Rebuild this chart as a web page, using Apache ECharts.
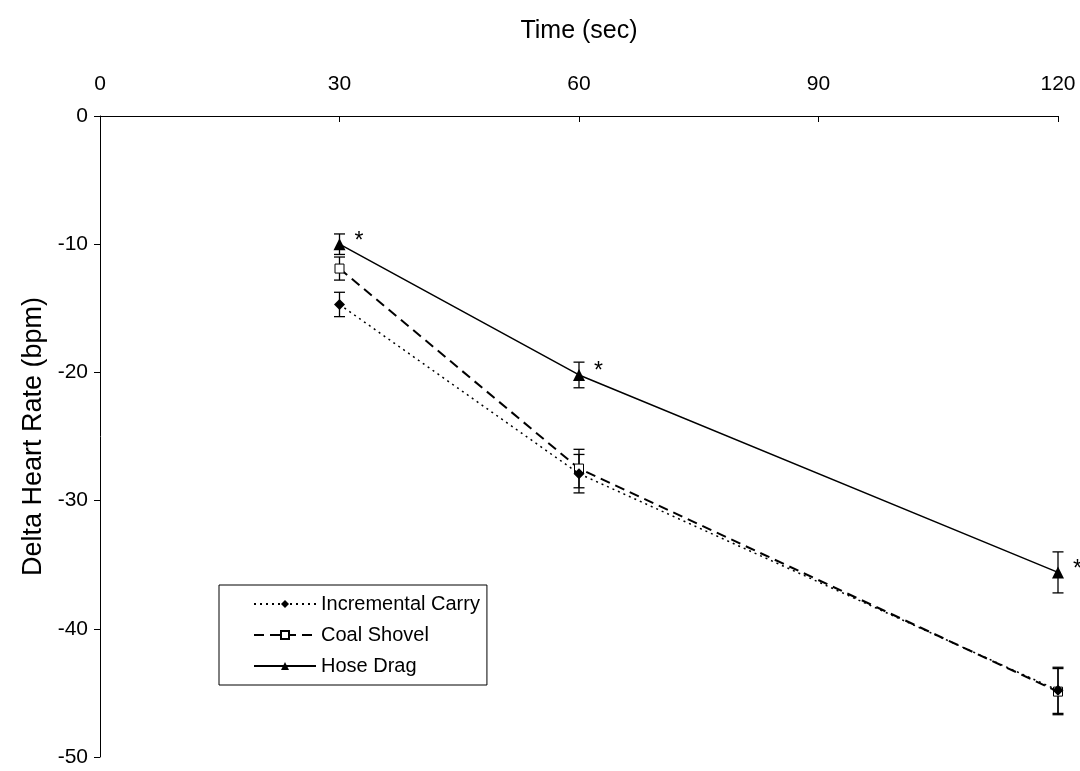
<!DOCTYPE html>
<html>
<head>
<meta charset="utf-8">
<script src="https://cdn.jsdelivr.net/npm/echarts@6/dist/echarts.min.js"></script>
<style>html,body{margin:0;padding:0;background:#fff}#c{width:1080px;height:771px}</style>
</head>
<body>
<div id="c"></div>
<script>
const categories = ['0', '30', '60', '90', '120'];
const incrementalCarry = [null, -14.7, -27.9, null, -44.8];
const incrementalCarryErr = [null, 0.95, 1.5, null, 1.8];
const coalShovel = [null, -11.9, -27.5, null, -44.9];
const coalShovelErr = [null, 0.9, 1.5, null, 1.8];
const hoseDrag = [null, -10.0, -20.2, null, -35.6];
const hoseDragErr = [null, 0.8, 1.0, null, 1.6];
const yTicks = [0, -10, -20, -30, -40, -50];

const FONT = 'Liberation Sans';

function errData(vals, errs) {
  const out = [];
  vals.forEach((v, i) => { if (v !== null) out.push([i, v - errs[i], v + errs[i]]); });
  return out;
}
function errSeries(vals, errs) {
  return {
    type: 'custom',
    data: errData(vals, errs),
    silent: true,
    z: 1,
    renderItem: function (params, api) {
      const lo = api.coord([api.value(0), api.value(1)]);
      const hi = api.coord([api.value(0), api.value(2)]);
      const w = 5.5;
      const st = { stroke: '#000', lineWidth: 1.3 };
      return {
        type: 'group',
        children: [
          { type: 'line', shape: { x1: lo[0], y1: lo[1], x2: hi[0], y2: hi[1] }, style: st },
          { type: 'line', shape: { x1: lo[0] - w, y1: lo[1], x2: lo[0] + w, y2: lo[1] }, style: st },
          { type: 'line', shape: { x1: hi[0] - w, y1: hi[1], x2: hi[0] + w, y2: hi[1] }, style: st }
        ]
      };
    }
  };
}

const chart = echarts.init(document.getElementById('c'), null, { renderer: 'canvas' });
chart.setOption({
  animation: false,
  backgroundColor: '#fff',
  textStyle: { fontFamily: FONT },
  grid: { left: 100, right: 22, top: 116, bottom: 14, containLabel: false },
  legend: {
    left: 219, top: 585,
    orient: 'vertical',
    itemWidth: 62, itemHeight: 10,
    itemGap: 11,
    padding: [9, 7, 9, 34],
    borderColor: '#000', borderWidth: 1,
    textStyle: { fontFamily: FONT, fontSize: 20, color: '#000', padding: [0, 0, 0, 0] },
    data: ['Incremental Carry', 'Coal Shovel', 'Hose Drag']
  },
  xAxis: {
    type: 'category',
    position: 'top',
    data: categories,
    boundaryGap: false,
    name: 'Time (sec)',
    nameLocation: 'middle',
    nameGap: 72,
    nameTextStyle: { fontFamily: FONT, fontSize: 25, color: '#000' },
    axisLine: { lineStyle: { color: '#000', width: 1 } },
    axisTick: { inside: true, length: 6, lineStyle: { color: '#000' }, alignWithLabel: true },
    axisLabel: { fontFamily: FONT, fontSize: 21, color: '#000', margin: 21 },
    splitLine: { show: false }
  },
  yAxis: {
    type: 'value',
    min: -50, max: 0, interval: 10,
    name: 'Delta Heart Rate (bpm)',
    nameLocation: 'middle',
    nameGap: 50,
    nameTextStyle: { fontFamily: FONT, fontSize: 27, color: '#000' },
    axisLine: { show: true, lineStyle: { color: '#000', width: 1 } },
    axisTick: { show: true, length: 6, lineStyle: { color: '#000' } },
    axisLabel: { fontFamily: FONT, fontSize: 21, color: '#000', margin: 12,
      customValues: yTicks },
    splitLine: { show: false }
  },
  series: [
    errSeries(incrementalCarry, incrementalCarryErr),
    errSeries(coalShovel, coalShovelErr),
    errSeries(hoseDrag, hoseDragErr),
    {
      name: 'Coal Shovel', type: 'line', data: coalShovel, connectNulls: true, z: 3,
      symbol: 'rect', symbolSize: 9,
      lineStyle: { color: '#000', width: 2, type: [10, 6] },
      itemStyle: { color: '#fff', borderColor: '#000', borderWidth: 1 }
    },
    {
      name: 'Incremental Carry', type: 'line', data: incrementalCarry, connectNulls: true, z: 4,
      symbol: 'diamond', symbolSize: 11,
      lineStyle: { color: '#000', width: 1.5, type: [2, 4] },
      itemStyle: { color: '#000', borderColor: '#000', borderWidth: 0 }
    },
    {
      name: 'Hose Drag', type: 'line', data: hoseDrag, connectNulls: true, z: 4,
      symbol: 'triangle', symbolSize: 12,
      lineStyle: { color: '#000', width: 1.5, type: 'solid' },
      itemStyle: { color: '#000', borderColor: '#000', borderWidth: 0 },
      label: { show: true, formatter: '*', position: 'right', distance: 9, offset: [0, -3],
        fontFamily: FONT, fontSize: 23, color: '#000' }
    }
  ]
});
</script>
</body>
</html>
